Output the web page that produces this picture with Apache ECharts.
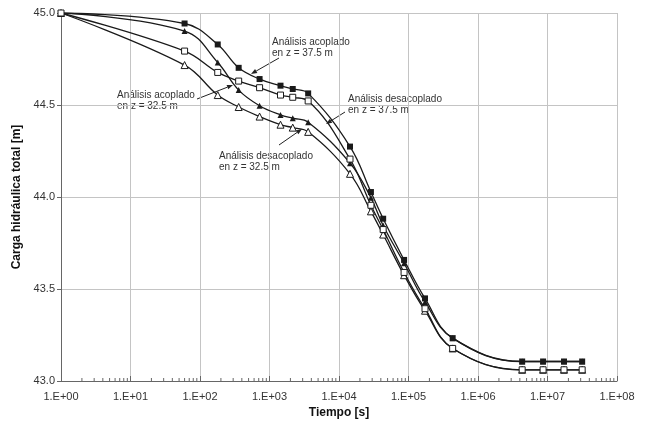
<!DOCTYPE html>
<html>
<head>
<meta charset="utf-8">
<script src="https://cdn.jsdelivr.net/npm/echarts@6/dist/echarts.min.js"></script>
<style>
html, body { margin: 0; padding: 0; background: #fff; }
#chart { width: 647px; height: 425px; }
</style>
</head>
<body>
<div id="chart"></div>
<script>
// tiempos [s]
var tiempos = [1, 60, 180, 360, 720, 1440, 2160, 3600, 14400, 28800, 43200, 86400, 172800, 432000, 4320000, 8640000, 17280000, 31536000];

// carga hidraulica total [m]
var acopladoZ375 = [45.0, 44.943, 44.829, 44.702, 44.641, 44.605, 44.587, 44.563, 44.274, 44.027, 43.882, 43.658, 43.449, 43.233, 43.106, 43.106, 43.106, 43.106];
var acopladoZ325 = [45.0, 44.902, 44.731, 44.581, 44.496, 44.446, 44.428, 44.406, 44.184, 43.996, 43.845, 43.640, 43.430, 43.233, 43.106, 43.106, 43.106, 43.106];
var desacopladoZ375 = [45.0, 44.793, 44.677, 44.630, 44.594, 44.554, 44.542, 44.522, 44.206, 43.955, 43.823, 43.590, 43.393, 43.177, 43.061, 43.061, 43.061, 43.061];
var desacopladoZ325 = [45.0, 44.717, 44.554, 44.489, 44.437, 44.393, 44.377, 44.354, 44.126, 43.922, 43.796, 43.575, 43.382, 43.177, 43.061, 43.061, 43.061, 43.061];

var yMin = 43.0, yMax = 45.0, yStep = 0.5;

// marcas menores del eje logaritmico (2..9 por decada)
var minorTicks = [];
for (var k = 0; k < 8; k++)
{
	for (var m = 2; m <= 9; m++) minorTicks.push([m * Math.pow(10, k)]);
}

function pares(ys)
{
	return tiempos.map(function(t, i) { return [t, ys[i]]; });
}

function flecha(x1, y1, x2, y2)
{
	var a = Math.atan2(y2 - y1, x2 - x1), L = 6, w = 2.3;
	var bx = x2 - L * Math.cos(a), by = y2 - L * Math.sin(a);
	var px = -Math.sin(a) * w, py = Math.cos(a) * w;
	return [
		{ type: 'line', shape: { x1: x1, y1: y1, x2: bx, y2: by }, style: { stroke: '#222', lineWidth: 1 }, silent: true },
		{ type: 'polygon', shape: { points: [[x2, y2], [bx + px, by + py], [bx - px, by - py]] }, style: { fill: '#222' }, silent: true }
	];
}

function nota(x, y, txt)
{
	return { type: 'text', x: x, y: y, silent: true,
		style: { text: txt, font: '10px "Liberation Sans", Arial, sans-serif', fill: '#333', lineHeight: 11, verticalAlign: 'top' } };
}

var chart = echarts.init(document.getElementById('chart'));

var lineas = { color: '#1a1a1a', width: 1.3 };
var fuente = '"Liberation Sans", Arial, sans-serif';

var options =
{
	animation: false,
	backgroundColor: '#fff',
	grid: { left: 61, right: 30, top: 13, bottom: 44 },
	xAxis:
	{
		type: 'log',
		logBase: 10,
		min: 1,
		max: 1e8,
		name: 'Tiempo [s]',
		nameLocation: 'middle',
		nameGap: 24,
		nameTextStyle: { fontFamily: fuente, fontSize: 12, fontWeight: 'bold', color: '#111' },
		axisLine: { lineStyle: { color: '#666', width: 1 } },
		axisTick: { show: true, inside: true, length: 5, lineStyle: { color: '#666' } },
		axisLabel: {
			fontFamily: fuente, fontSize: 11, color: '#333', margin: 10,
			formatter: function(v)
			{
				var e = Math.round(Math.log10(v));
				return '1.E+' + (e < 10 ? '0' : '') + e;
			}
		},
		splitLine: { show: true, lineStyle: { color: '#c4c4c4', width: 1 } }
	},
	yAxis:
	{
		type: 'value',
		min: yMin,
		max: yMax,
		interval: yStep,
		name: 'Carga hidráulica total [m]',
		nameLocation: 'middle',
		nameGap: 32,
		nameTextStyle: { fontFamily: fuente, fontSize: 12, fontWeight: 'bold', color: '#111' },
		axisLine: { show: true, lineStyle: { color: '#666', width: 1 } },
		axisTick: { show: true, length: 4, lineStyle: { color: '#666' } },
		axisLabel: { fontFamily: fuente, fontSize: 11, color: '#333', margin: 6,
			formatter: function(v) { return v.toFixed(1); } },
		splitLine: { show: true, lineStyle: { color: '#c4c4c4', width: 1 } }
	},
	series:
	[
		{
			name: 'Análisis desacoplado en z = 32.5 m', type: 'line', smooth: 0.4,
			data: pares(desacopladoZ325), symbol: 'triangle', symbolSize: 7, showAllSymbol: true,
			lineStyle: lineas, itemStyle: { color: '#fff', borderColor: '#1a1a1a', borderWidth: 1 }, z: 2
		},
		{
			name: 'Análisis acoplado en z = 32.5 m', type: 'line', smooth: 0.4,
			data: pares(acopladoZ325), symbol: 'triangle', symbolSize: 6, showAllSymbol: true,
			lineStyle: lineas, itemStyle: { color: '#1a1a1a', borderColor: '#1a1a1a', borderWidth: 0 }, z: 3
		},
		{
			name: 'Análisis acoplado en z = 37.5 m', type: 'line', smooth: 0.4,
			data: pares(acopladoZ375), symbol: 'rect', symbolSize: 6, showAllSymbol: true,
			lineStyle: lineas, itemStyle: { color: '#1a1a1a', borderColor: '#1a1a1a', borderWidth: 0 }, z: 4
		},
		{
			name: 'Análisis desacoplado en z = 37.5 m', type: 'line', smooth: 0.4,
			data: pares(desacopladoZ375), symbol: 'rect', symbolSize: 6, showAllSymbol: true,
			lineStyle: lineas, itemStyle: { color: '#fff', borderColor: '#1a1a1a', borderWidth: 1 }, z: 5
		},
		{
			type: 'custom', silent: true, data: minorTicks, z: 1,
			renderItem: function(params, api)
			{
				var p = api.coord([api.value(0), yMin]);
				return { type: 'line', shape: { x1: p[0], y1: p[1], x2: p[0], y2: p[1] - 3 },
					style: { stroke: '#666', lineWidth: 1 } };
			}
		}
	],
	graphic: [].concat(
		nota(272, 37, 'Análisis acoplado\nen z = 37.5 m'),
		flecha(279, 58, 251, 74),
		nota(117, 90, 'Análisis acoplado\nen z = 32.5 m'),
		flecha(197, 99, 233, 85),
		nota(348, 94, 'Análisis desacoplado\nen z = 37.5 m'),
		flecha(345, 112, 326, 124),
		nota(219, 151, 'Análisis desacoplado\nen z = 32.5 m'),
		flecha(279, 145, 302, 129)
	)
};

chart.setOption(options);
</script>
</body>
</html>
